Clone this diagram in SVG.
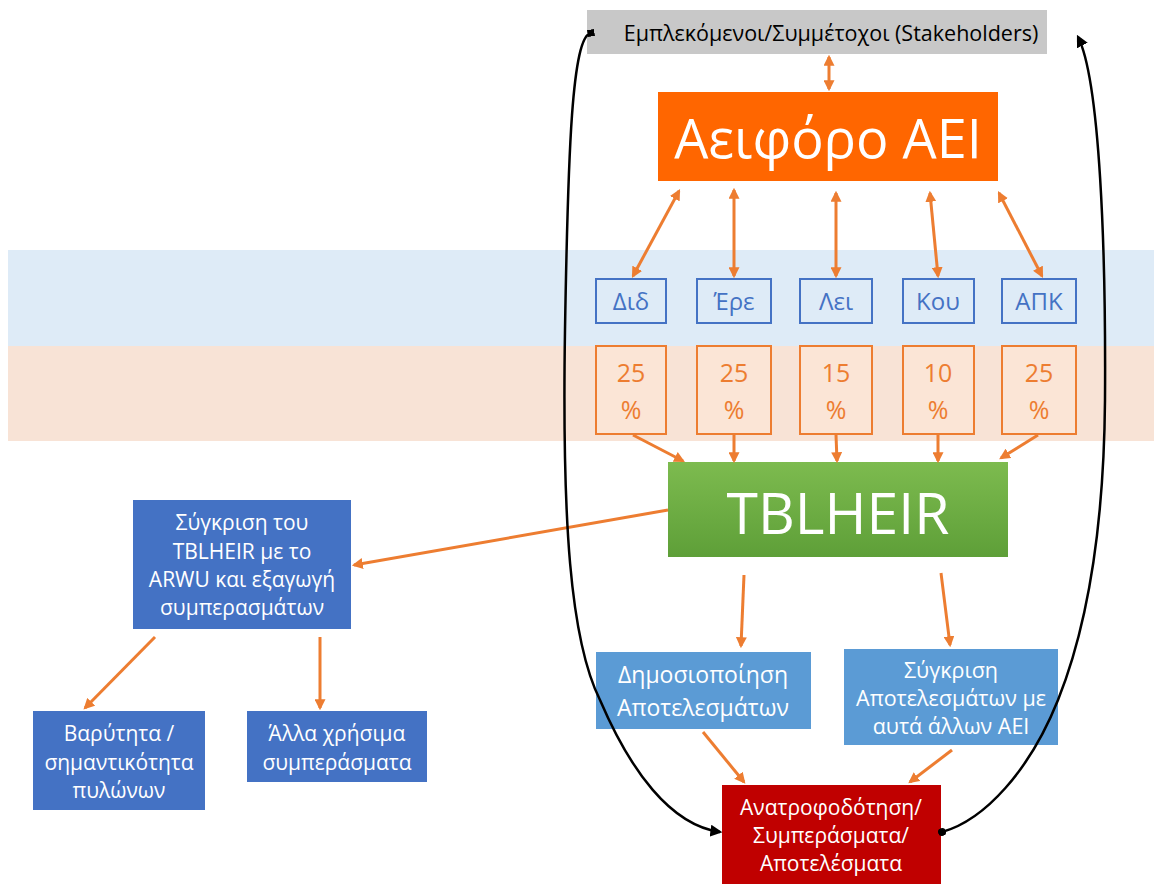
<svg xmlns="http://www.w3.org/2000/svg" width="1154" height="884" viewBox="0 0 1154 884">
<style>
text{font-family:"Open Sans","Noto Sans",sans-serif;text-anchor:middle}
.w{fill:#fff}
.conn{stroke:#ED7D31;stroke-width:3;fill:none}
.blk{stroke:#000;stroke-width:2.5;fill:none}
.sb{fill:#DEEBF7;stroke:#4472C4;stroke-width:2}
.sbt{fill:#4472C4;font-size:24px}
.pb{fill:#FBE5D6;stroke:#ED7D31;stroke-width:2}
.pbt{fill:#ED7D31;font-size:25px}
</style>
<defs>
<marker id="oa" viewBox="0 0 10 10" refX="8" refY="5" markerWidth="11" markerHeight="11" markerUnits="userSpaceOnUse" orient="auto-start-reverse"><path d="M0,0 L10,5 L0,10 z" fill="#ED7D31"/></marker>
<marker id="ba" viewBox="0 0 10 10" refX="8" refY="5" markerWidth="12" markerHeight="12" markerUnits="userSpaceOnUse" orient="auto"><path d="M0,0 L10,5 L0,10 z" fill="#000"/></marker>
<marker id="bs" viewBox="0 0 10 10" refX="5" refY="5" markerWidth="7" markerHeight="7" markerUnits="userSpaceOnUse" orient="auto"><rect x="0" y="0" width="10" height="10" fill="#000"/></marker>
<marker id="bd" viewBox="0 0 10 10" refX="5" refY="5" markerWidth="8" markerHeight="8" markerUnits="userSpaceOnUse" orient="auto"><circle cx="5" cy="5" r="5" fill="#000"/></marker>
<linearGradient id="gg" x1="0" y1="0" x2="0" y2="1"><stop offset="0" stop-color="#7DBB4F"/><stop offset="1" stop-color="#5E9F38"/></linearGradient>
</defs>
<g id="bands">
<rect x="8" y="250" width="1146" height="96" fill="#DEEBF7"/>
<rect x="8" y="346" width="1146" height="95" fill="#F8E3D6"/>
</g>
<g id="stakeholders"><rect x="587" y="10" width="460" height="44" fill="#C8C8C8"/><text x="831" y="41" font-size="21.5">Εμπλεκόμενοι/Συμμέτοχοι (Stakeholders)</text></g>
<g id="aei"><rect x="658" y="92" width="340" height="89" fill="#FF6600"/><text class="w" x="828" y="158" font-size="54">Αειφόρο ΑΕΙ</text></g>
<g id="did"><rect class="sb" x="596" y="279" width="70" height="44"/><text class="sbt" x="631" y="310">Διδ</text></g>
<g id="ere"><rect class="sb" x="697" y="279" width="74" height="44"/><text class="sbt" x="734" y="310">Έρε</text></g>
<g id="lei"><rect class="sb" x="800" y="279" width="72" height="44"/><text class="sbt" x="836" y="310">Λει</text></g>
<g id="kou"><rect class="sb" x="903" y="279" width="71" height="44"/><text class="sbt" x="938" y="310">Κου</text></g>
<g id="apk"><rect class="sb" x="1002" y="279" width="74" height="44"/><text class="sbt" x="1039" y="310">ΑΠΚ</text></g>
<g id="p1"><rect class="pb" x="596" y="346" width="70" height="88"/><text class="pbt" x="631" y="382">25</text><text class="pbt" x="631" y="419">%</text></g>
<g id="p2"><rect class="pb" x="697" y="346" width="74" height="88"/><text class="pbt" x="734" y="382">25</text><text class="pbt" x="734" y="419">%</text></g>
<g id="p3"><rect class="pb" x="800" y="346" width="72" height="88"/><text class="pbt" x="836" y="382">15</text><text class="pbt" x="836" y="419">%</text></g>
<g id="p4"><rect class="pb" x="903" y="346" width="71" height="88"/><text class="pbt" x="938" y="382">10</text><text class="pbt" x="938" y="419">%</text></g>
<g id="p5"><rect class="pb" x="1002" y="346" width="74" height="88"/><text class="pbt" x="1039" y="382">25</text><text class="pbt" x="1039" y="419">%</text></g>
<g id="tblheir"><rect x="668" y="462" width="340" height="95" fill="url(#gg)"/><text class="w" x="838" y="534" font-size="57">TBLHEIR</text></g>
<g id="arwu"><rect x="133" y="500" width="218" height="129" fill="#4472C4"/>
<text class="w" font-size="21"><tspan x="242" y="530">Σύγκριση του</tspan><tspan x="242" y="559">TBLHEIR με το</tspan><tspan x="242" y="587">ARWU και εξαγωγή</tspan><tspan x="242" y="615">συμπερασμάτων</tspan></text></g>
<g id="weight"><rect x="33" y="711" width="172" height="99" fill="#4472C4"/>
<text class="w" font-size="21"><tspan x="119" y="741">Βαρύτητα /</tspan><tspan x="119" y="770">σημαντικότητα</tspan><tspan x="119" y="798">πυλώνων</tspan></text></g>
<g id="other"><rect x="247" y="711" width="180" height="71" fill="#4472C4"/>
<text class="w" font-size="21"><tspan x="337" y="741">Άλλα χρήσιμα</tspan><tspan x="337" y="770">συμπεράσματα</tspan></text></g>
<g id="publish"><rect x="596" y="652" width="215" height="77" fill="#5B9BD5"/>
<text class="w" font-size="23"><tspan x="703" y="683">Δημοσιοποίηση</tspan><tspan x="703" y="716">Αποτελεσμάτων</tspan></text></g>
<g id="compare"><rect x="844" y="649" width="214" height="96" fill="#5B9BD5"/>
<text class="w" font-size="21.5"><tspan x="951" y="678">Σύγκριση</tspan><tspan x="951" y="706">Αποτελεσμάτων με</tspan><tspan x="951" y="734">αυτά άλλων ΑΕΙ</tspan></text></g>
<g id="feedback"><rect x="722" y="785" width="219" height="99" fill="#C00000"/>
<text class="w" font-size="21"><tspan x="831" y="815">Ανατροφοδότηση/</tspan><tspan x="831" y="843">Συμπεράσματα/</tspan><tspan x="831" y="871">Αποτελέσματα</tspan></text></g>
<g id="connectors">
<line class="conn" x1="829" y1="57" x2="829" y2="89" marker-start="url(#oa)" marker-end="url(#oa)"/>
<line class="conn" x1="679" y1="191" x2="633" y2="276" marker-start="url(#oa)" marker-end="url(#oa)"/>
<line class="conn" x1="734" y1="190" x2="734" y2="276" marker-start="url(#oa)" marker-end="url(#oa)"/>
<line class="conn" x1="836" y1="193" x2="836" y2="276" marker-start="url(#oa)" marker-end="url(#oa)"/>
<line class="conn" x1="930" y1="193" x2="938" y2="276" marker-start="url(#oa)" marker-end="url(#oa)"/>
<line class="conn" x1="999" y1="193" x2="1042" y2="276" marker-start="url(#oa)" marker-end="url(#oa)"/>
<line class="conn" x1="633" y1="435" x2="683" y2="461" marker-end="url(#oa)"/>
<line class="conn" x1="734" y1="435" x2="734" y2="461" marker-end="url(#oa)"/>
<line class="conn" x1="836" y1="435" x2="837" y2="461" marker-end="url(#oa)"/>
<line class="conn" x1="938" y1="435" x2="938" y2="461" marker-end="url(#oa)"/>
<line class="conn" x1="1038" y1="435" x2="1001" y2="458" marker-end="url(#oa)"/>
<line class="conn" x1="668" y1="510" x2="354" y2="565" marker-end="url(#oa)"/>
<line class="conn" x1="155" y1="637" x2="85" y2="708" marker-end="url(#oa)"/>
<line class="conn" x1="320" y1="637" x2="320" y2="708" marker-end="url(#oa)"/>
<line class="conn" x1="744" y1="575" x2="741" y2="646" marker-end="url(#oa)"/>
<line class="conn" x1="941" y1="573" x2="950" y2="645" marker-end="url(#oa)"/>
<line class="conn" x1="703" y1="732" x2="744" y2="782" marker-end="url(#oa)"/>
<line class="conn" x1="952" y1="750" x2="910" y2="782" marker-end="url(#oa)"/>
<path class="blk" d="M591,33 C572,36 568,150 565,330 C562,520 570,640 600,700 C630,770 670,825 720,832" marker-start="url(#bs)" marker-end="url(#ba)"/>
<path class="blk" d="M942,832 C985,820 1030,770 1058,700 C1090,620 1104,520 1105,400 C1106,250 1100,80 1078,37" marker-start="url(#bd)" marker-end="url(#ba)"/>
</g>
</svg>
